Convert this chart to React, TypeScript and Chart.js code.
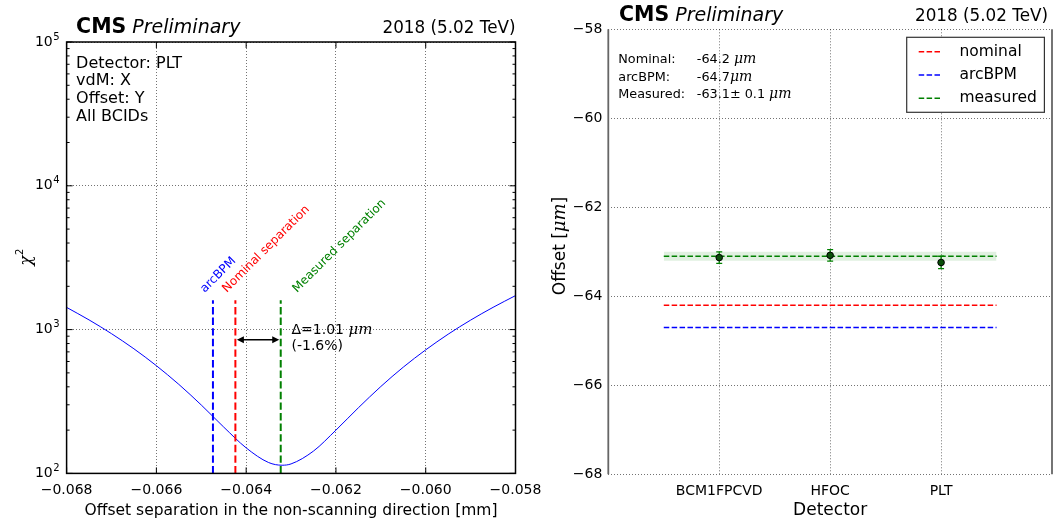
import { useEffect, useRef } from "react";
import { Chart, registerables } from "chart.js";

Chart.register(...registerables);

const SANS = '"DejaVu Sans", sans-serif';
const MATH = '"DejaVu Serif", serif';
const RED = "#ff0000";
const BLUE = "#0000ff";
const GREEN = "#008000";

// ---------- Left panel: chi^2 scan of the offset separation ----------
const scanOffsets = [
  -0.068, -0.0675, -0.067, -0.0665, -0.066, -0.0655, -0.065, -0.0645, -0.064, -0.0635,
  -0.0632, -0.063, -0.0625, -0.062, -0.0615, -0.061, -0.0605, -0.06, -0.0595, -0.059,
  -0.0585, -0.058,
];
const scanChi2 = [
  1427, 1168, 937, 735, 561, 416, 299, 210, 150.5, 119,
  114, 116.4, 143, 200, 286, 402, 548, 723, 929, 1164,
  1428, 1723,
];
const separationValues = [-0.06474, -0.06424, -0.06323]; // arcBPM, nominal, measured
const separationColors = [BLUE, RED, GREEN];
const separationNames = ["arcBPM", "Nominal separation", "Measured separation"];
const separationLabelX = [-0.06492, -0.06443, -0.06287];
const separationLabelLevel = 1800;
const separationLineTop = 1600;
const deltaArrowLevel = 850;
const deltaTextX = -0.06299;
const deltaTextLevel = 933;
const deltaLines = ["\u0394=1.01 ", "(-1.6%)"];
const scanInfo = ["Detector: PLT", "vdM: X", "Offset: Y", "All BCIDs"];
const scanXTicks = [-0.068, -0.066, -0.064, -0.062, -0.06, -0.058];
const scanYDecades = [100, 1000, 10000, 100000];

// ---------- Right panel: fitted offset per detector ----------
const detectors = ["BCM1FPCVD", "HFOC", "PLT"];
const detectorPos = [1, 2, 3];
const detectorOffsets = [-63.13, -63.08, -63.24];
const detectorErrors = [0.13, 0.13, 0.14];
const nominalOffset = -64.2;
const arcBpmOffset = -64.7;
const measuredOffset = -63.1;
const measuredError = 0.1;
const referenceSpan = [0.5, 3.5];
const offsetTicks = [-68, -66, -64, -62, -60, -58];
const legendNames = ["nominal", "arcBPM", "measured"];
const legendColors = [RED, BLUE, GREEN];
const summaryNames = ["Nominal:", "arcBPM:", "Measured:"];
const summaryValues = ["-64.2 ", "-64.7", "-63.1\u00b1 0.1 "];

const minus = (s: string) => s.replace("-", "\u2212");

function drawHeader(ctx: CanvasRenderingContext2D, left: number, right: number, base: number) {
  ctx.fillStyle = "#000";
  ctx.textBaseline = "alphabetic";
  ctx.textAlign = "left";
  ctx.font = `bold 20.5px ${SANS}`;
  ctx.fillText("CMS", left, base);
  const w = ctx.measureText("CMS").width;
  ctx.font = `italic 19px ${SANS}`;
  const sp = ctx.measureText(" ").width;
  ctx.fillText("Preliminary", left + w + sp, base);
  ctx.font = `16.8px ${SANS}`;
  ctx.textAlign = "right";
  ctx.fillText("2018 (5.02 TeV)", right, base);
}

// keep the plot area exactly where the layout padding puts it
const noScalePadding = (s: any) => {
  s.paddingLeft = 0;
  s.paddingRight = 0;
  s.paddingTop = 0;
  s.paddingBottom = 0;
};

const scanDecor = {
  id: "scanDecor",
  afterDraw(chart: any) {
    const { ctx, chartArea: a } = chart;
    const xs = chart.scales.x;
    const ys = chart.scales.y;
    ctx.save();
    ctx.setLineDash([]);
    // frame
    ctx.strokeStyle = "#000";
    ctx.lineWidth = 1.5;
    ctx.strokeRect(a.left, a.top, a.right - a.left, a.bottom - a.top);
    // inward ticks
    ctx.lineWidth = 1;
    ctx.beginPath();
    for (const v of scanXTicks) {
      const px = xs.getPixelForValue(v);
      ctx.moveTo(px, a.bottom);
      ctx.lineTo(px, a.bottom - 6);
      ctx.moveTo(px, a.top);
      ctx.lineTo(px, a.top + 6);
    }
    for (const d of scanYDecades) {
      const py = ys.getPixelForValue(d);
      ctx.moveTo(a.left, py);
      ctx.lineTo(a.left + 6, py);
      ctx.moveTo(a.right, py);
      ctx.lineTo(a.right - 6, py);
      if (d < 100000) {
        for (let k = 2; k <= 9; k++) {
          const pm = ys.getPixelForValue(d * k);
          ctx.moveTo(a.left, pm);
          ctx.lineTo(a.left + 3, pm);
          ctx.moveTo(a.right, pm);
          ctx.lineTo(a.right - 3, pm);
        }
      }
    }
    ctx.stroke();

    // y tick labels 10^n
    ctx.fillStyle = "#000";
    for (const d of scanYDecades) {
      const py = ys.getPixelForValue(d);
      const exp = String(Math.round(Math.log10(d)));
      ctx.font = `10px ${SANS}`;
      ctx.textAlign = "right";
      ctx.textBaseline = "middle";
      const ew = ctx.measureText(exp).width;
      ctx.fillText(exp, a.left - 7, py - 5);
      ctx.font = `14px ${SANS}`;
      ctx.fillText("10", a.left - 7.5 - ew, py);
    }

    drawHeader(ctx, a.left + 9.5, a.right, 32.8);

    // info block
    ctx.font = `16px ${SANS}`;
    ctx.textAlign = "left";
    ctx.textBaseline = "alphabetic";
    scanInfo.forEach((t, i) => ctx.fillText(t, a.left + 9.5, a.top + 25.6 + i * 17.7));

    // rotated separation labels
    ctx.font = `12px ${SANS}`;
    separationNames.forEach((t, i) => {
      ctx.save();
      ctx.translate(xs.getPixelForValue(separationLabelX[i]), ys.getPixelForValue(separationLabelLevel));
      ctx.rotate(-Math.PI / 4);
      ctx.fillStyle = separationColors[i];
      ctx.fillText(t, 0, 0);
      ctx.restore();
    });

    // double arrow between nominal and measured separation
    const ay = ys.getPixelForValue(deltaArrowLevel);
    const x1 = xs.getPixelForValue(separationValues[1]) + 1.5;
    const x2 = xs.getPixelForValue(separationValues[2]) - 1.5;
    ctx.strokeStyle = "#000";
    ctx.fillStyle = "#000";
    ctx.lineWidth = 1.5;
    ctx.beginPath();
    ctx.moveTo(x1 + 4, ay);
    ctx.lineTo(x2 - 4, ay);
    ctx.stroke();
    ctx.beginPath();
    ctx.moveTo(x1, ay);
    ctx.lineTo(x1 + 7, ay - 3.5);
    ctx.lineTo(x1 + 7, ay + 3.5);
    ctx.closePath();
    ctx.moveTo(x2, ay);
    ctx.lineTo(x2 - 7, ay - 3.5);
    ctx.lineTo(x2 - 7, ay + 3.5);
    ctx.closePath();
    ctx.fill();

    const tx = xs.getPixelForValue(deltaTextX);
    const ty = ys.getPixelForValue(deltaTextLevel);
    ctx.font = `14px ${SANS}`;
    ctx.fillText(deltaLines[0], tx, ty);
    const dw = ctx.measureText(deltaLines[0]).width;
    ctx.font = `italic 15px ${MATH}`;
    ctx.fillText("\u03bcm", tx + dw, ty);
    ctx.font = `14px ${SANS}`;
    ctx.fillText(deltaLines[1], tx, ty + 16);

    // axis titles
    ctx.font = `15.5px ${SANS}`;
    ctx.textAlign = "center";
    ctx.fillText(
      "Offset separation in the non-scanning direction [mm]",
      (a.left + a.right) / 2,
      515
    );
    ctx.save();
    ctx.translate(31, (a.top + a.bottom) / 2);
    ctx.rotate(-Math.PI / 2);
    ctx.font = `italic 17px ${MATH}`;
    ctx.textAlign = "left";
    const cw = ctx.measureText("\u03c7").width;
    ctx.fillText("\u03c7", -(cw + 6) / 2, 0);
    ctx.font = `10px ${SANS}`;
    ctx.fillText("2", -(cw + 6) / 2 + cw + 0.5, -8);
    ctx.restore();

    ctx.restore();
  },
};

const offsetDecor = {
  id: "offsetDecor",
  beforeDatasetDraw(chart: any, args: any) {
    if (args.index !== 0) return;
    const { ctx } = chart;
    const xs = chart.scales.x;
    const ys = chart.scales.y;
    ctx.save();
    ctx.setLineDash([]);
    ctx.strokeStyle = GREEN;
    ctx.lineWidth = 1.3;
    ctx.beginPath();
    detectorPos.forEach((p, i) => {
      const px = xs.getPixelForValue(p);
      const top = ys.getPixelForValue(detectorOffsets[i] + detectorErrors[i]);
      const bot = ys.getPixelForValue(detectorOffsets[i] - detectorErrors[i]);
      ctx.moveTo(px, top);
      ctx.lineTo(px, bot);
      ctx.moveTo(px - 3, top);
      ctx.lineTo(px + 3, top);
      ctx.moveTo(px - 3, bot);
      ctx.lineTo(px + 3, bot);
    });
    ctx.stroke();
    ctx.restore();
  },
  afterDraw(chart: any) {
    const { ctx, chartArea: a } = chart;
    ctx.save();
    ctx.setLineDash([]);
    // side spines
    ctx.strokeStyle = "#666";
    ctx.lineWidth = 1.8;
    ctx.beginPath();
    ctx.moveTo(a.left, a.top);
    ctx.lineTo(a.left, a.bottom);
    ctx.moveTo(a.right, a.top);
    ctx.lineTo(a.right, a.bottom);
    ctx.stroke();

    drawHeader(ctx, a.left + 10.7, a.right - 4, 20.7);

    // summary text
    ctx.textAlign = "left";
    ctx.textBaseline = "alphabetic";
    summaryNames.forEach((n, i) => {
      const y = a.top + 34 + i * 17.5;
      ctx.fillStyle = "#000";
      ctx.font = `12.8px ${SANS}`;
      ctx.fillText(n, a.left + 10, y);
      ctx.fillText(summaryValues[i], a.left + 88.5, y);
      const w = ctx.measureText(summaryValues[i]).width;
      ctx.font = `italic 14px ${MATH}`;
      ctx.fillText("\u03bcm", a.left + 88.5 + w, y);
    });

    // legend
    const lx = a.right - 145.3;
    const ly = a.top + 8;
    ctx.fillStyle = "#fff";
    ctx.fillRect(lx, ly, 137.7, 75);
    ctx.strokeStyle = "#333";
    ctx.lineWidth = 1.2;
    ctx.strokeRect(lx, ly, 137.7, 75);
    legendNames.forEach((n, i) => {
      const y = ly + 14.4 + i * 23.3;
      ctx.strokeStyle = legendColors[i];
      ctx.lineWidth = 1.5;
      ctx.setLineDash([5.5, 2.4]);
      ctx.beginPath();
      ctx.moveTo(lx + 12, y);
      ctx.lineTo(lx + 34.7, y);
      ctx.stroke();
      ctx.setLineDash([]);
      ctx.fillStyle = "#000";
      ctx.font = `15.5px ${SANS}`;
      ctx.textBaseline = "middle";
      ctx.fillText(n, lx + 52.7, y);
    });

    // axis titles
    ctx.textBaseline = "alphabetic";
    ctx.fillStyle = "#000";
    ctx.font = `17px ${SANS}`;
    ctx.textAlign = "center";
    ctx.fillText("Detector", (a.left + a.right) / 2, 515);

    ctx.save();
    ctx.translate(35, 246);
    ctx.rotate(-Math.PI / 2);
    ctx.textAlign = "left";
    ctx.font = `17px ${SANS}`;
    const p1 = "Offset [";
    const w1 = ctx.measureText(p1).width;
    const w3 = ctx.measureText("]").width;
    ctx.font = `italic 18px ${MATH}`;
    const w2 = ctx.measureText("\u03bcm").width;
    const start = -(w1 + w2 + w3) / 2;
    ctx.font = `17px ${SANS}`;
    ctx.fillText(p1, start, 0);
    ctx.fillText("]", start + w1 + w2, 0);
    ctx.font = `italic 18px ${MATH}`;
    ctx.fillText("\u03bcm", start + w1, 0);
    ctx.restore();

    ctx.restore();
  },
};

const gridColor = "rgba(0,0,0,0.55)";

function scanConfig(): any {
  const markerSets = separationValues.map((v, i) => ({
    data: [
      { x: v, y: 100 },
      { x: v, y: separationLineTop },
    ],
    borderColor: separationColors[i],
    borderWidth: 2,
    borderDash: [7.4, 3.2],
    pointRadius: 0,
    fill: false,
  }));
  return {
    type: "line",
    data: {
      datasets: [
        ...markerSets,
        {
          data: scanOffsets.map((x, i) => ({ x, y: scanChi2[i] })),
          borderColor: BLUE,
          borderWidth: 1,
          pointRadius: 0,
          cubicInterpolationMode: "monotone",
          fill: false,
        },
      ],
    },
    options: {
      responsive: false,
      animation: false,
      events: [],
      layout: { padding: { top: 42, right: 44.5, left: 0, bottom: 0 } },
      plugins: { legend: { display: false }, tooltip: { enabled: false } },
      scales: {
        x: {
          type: "linear",
          min: -0.068,
          max: -0.058,
          afterBuildTicks: (s: any) => {
            s.ticks = scanXTicks.map((value) => ({ value }));
          },
          afterFit: (s: any) => {
            s.height = 48.6;
            noScalePadding(s);
          },
          ticks: {
            color: "#000",
            font: { family: SANS, size: 14 },
            padding: 9,
            maxRotation: 0,
            autoSkip: false,
            callback: (v: any) => minus(Number(v).toFixed(3)),
          },
          grid: { color: gridColor, lineWidth: 1, drawTicks: false },
          border: { display: false, dash: [1, 2] },
        },
        y: {
          type: "logarithmic",
          min: 100,
          max: 100000,
          afterBuildTicks: (s: any) => {
            s.ticks = scanYDecades.map((value) => ({ value }));
          },
          afterFit: (s: any) => {
            s.width = 66.6;
            noScalePadding(s);
          },
          ticks: { display: false },
          grid: { color: gridColor, lineWidth: 1, drawTicks: false },
          border: { display: false, dash: [1, 2] },
        },
      },
    },
    plugins: [scanDecor],
  };
}

function offsetConfig(): any {
  const refLine = (v: number, color: string) => ({
    data: referenceSpan.map((x) => ({ x, y: v })),
    borderColor: color,
    borderWidth: 1.5,
    borderDash: [5.5, 2.4],
    pointRadius: 0,
    fill: false,
  });
  return {
    type: "line",
    data: {
      datasets: [
        {
          data: detectorPos.map((x, i) => ({ x, y: detectorOffsets[i] })),
          showLine: false,
          pointRadius: 3.3,
          pointBackgroundColor: "#0a4f0a",
          pointBorderColor: "#000",
          pointBorderWidth: 1,
        },
        refLine(measuredOffset, GREEN),
        {
          data: referenceSpan.map((x) => ({ x, y: measuredOffset + measuredError })),
          borderWidth: 0,
          pointRadius: 0,
          backgroundColor: "rgba(0,128,0,0.12)",
          fill: { value: measuredOffset - measuredError },
        },
        refLine(nominalOffset, RED),
        refLine(arcBpmOffset, BLUE),
      ],
    },
    options: {
      responsive: false,
      animation: false,
      events: [],
      layout: { padding: { top: 29.3, right: 3.7, left: 0, bottom: 0 } },
      plugins: { legend: { display: false }, tooltip: { enabled: false } },
      scales: {
        x: {
          type: "linear",
          min: 0,
          max: 4,
          afterBuildTicks: (s: any) => {
            s.ticks = [0, ...detectorPos, 4].map((value) => ({ value }));
          },
          afterFit: (s: any) => {
            s.height = 47.7;
            noScalePadding(s);
          },
          ticks: {
            color: "#000",
            font: { family: SANS, size: 14 },
            padding: 9,
            maxRotation: 0,
            autoSkip: false,
            callback: (v: any) => {
              const i = detectorPos.indexOf(Number(v));
              return i >= 0 ? detectors[i] : "";
            },
          },
          grid: {
            color: (c: any) => (c.tick && detectorPos.includes(c.tick.value) ? gridColor : "rgba(0,0,0,0)"),
            lineWidth: 1,
            drawTicks: false,
          },
          border: { display: false, dash: [1, 2] },
        },
        y: {
          type: "linear",
          min: -68,
          max: -58,
          afterBuildTicks: (s: any) => {
            s.ticks = offsetTicks.map((value) => ({ value }));
          },
          afterFit: (s: any) => {
            s.width = 78.3;
            noScalePadding(s);
          },
          ticks: {
            color: "#000",
            font: { family: SANS, size: 14 },
            padding: 6,
            autoSkip: false,
            callback: (v: any) => minus(String(v)),
          },
          grid: { color: gridColor, lineWidth: 1, drawTicks: false },
          border: { display: false, dash: [1, 2] },
        },
      },
    },
    plugins: [offsetDecor],
  };
}

export default function App() {
  const leftRef = useRef<HTMLCanvasElement>(null);
  const rightRef = useRef<HTMLCanvasElement>(null);

  useEffect(() => {
    const left = new Chart(leftRef.current as HTMLCanvasElement, scanConfig());
    const right = new Chart(rightRef.current as HTMLCanvasElement, offsetConfig());
    return () => {
      left.destroy();
      right.destroy();
    };
  }, []);

  return (
    <div style={{ position: "absolute", left: 0, top: 0, width: 1057, height: 522, background: "#fff" }}>
      <canvas ref={leftRef} width={560} height={522} style={{ position: "absolute", left: 0, top: 0 }} />
      <canvas ref={rightRef} width={527} height={522} style={{ position: "absolute", left: 530, top: 0 }} />
    </div>
  );
}
